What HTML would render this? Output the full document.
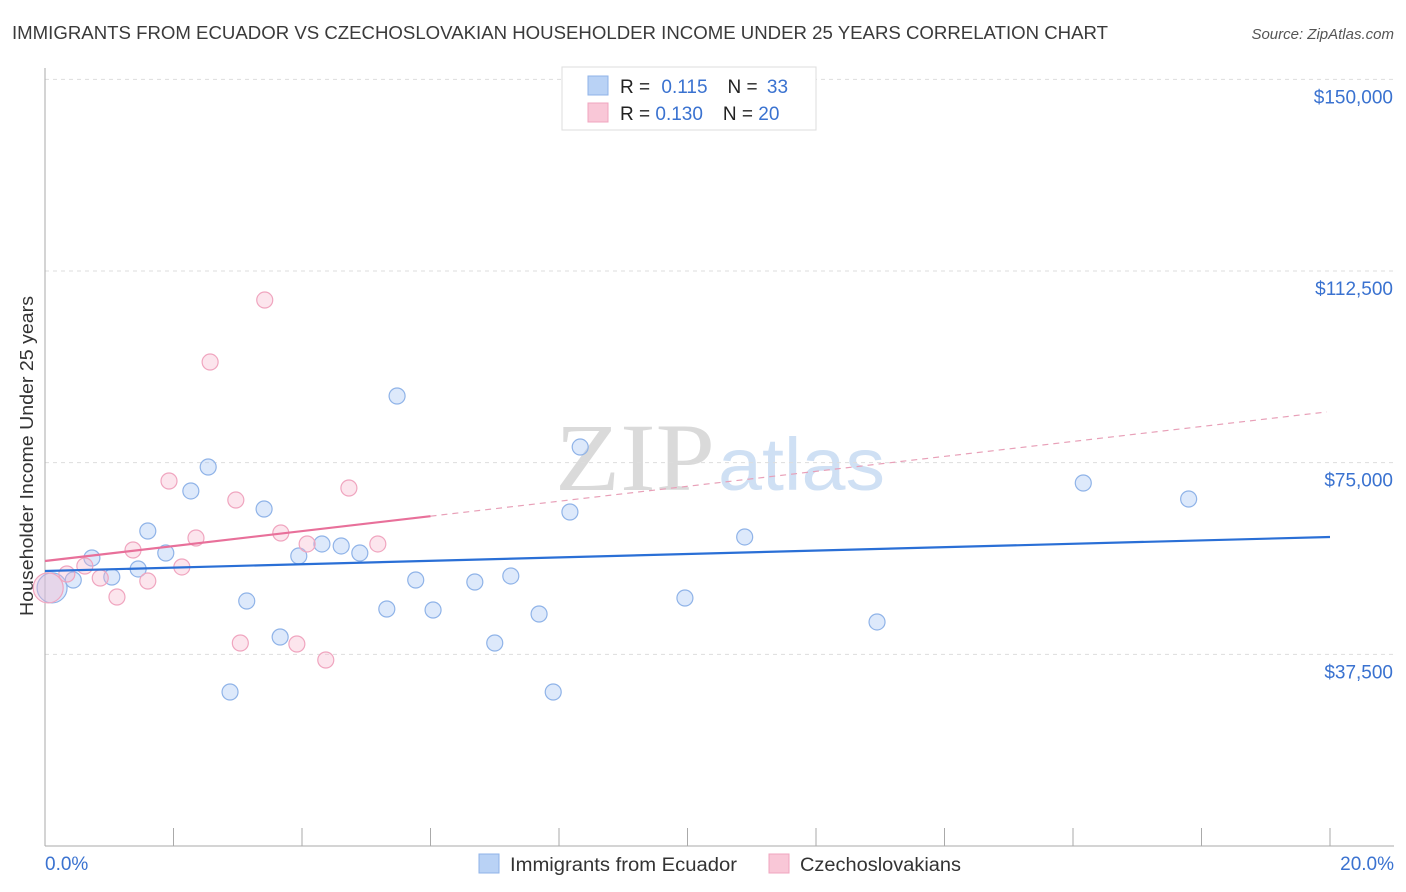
<!DOCTYPE html>
<html><head><meta charset="utf-8"><style>
body{margin:0;background:#fff;font-family:"Liberation Sans",sans-serif;}
#c{position:relative;width:1406px;height:892px;overflow:hidden}
</style></head><body>
<div id="c">
<svg id="s" width="1406" height="892" xmlns="http://www.w3.org/2000/svg">
<text x="12" y="39" font-size="18.5" fill="#3a3a3a" textLength="1096" lengthAdjust="spacingAndGlyphs">IMMIGRANTS FROM ECUADOR VS CZECHOSLOVAKIAN HOUSEHOLDER INCOME UNDER 25 YEARS CORRELATION CHART</text>
<text x="1394" y="39" font-size="15" fill="#555" font-style="italic" text-anchor="end">Source: ZipAtlas.com</text>
<text x="555" y="490" font-size="96" fill="#dadada" font-family="Liberation Serif,serif" textLength="160" lengthAdjust="spacingAndGlyphs">ZIP</text>
<text x="718" y="490" font-size="74" fill="#cfe0f4" textLength="167" lengthAdjust="spacingAndGlyphs">atlas</text>
<text transform="translate(33,456) rotate(-90)" font-size="18" fill="#333" text-anchor="middle" textLength="320" lengthAdjust="spacingAndGlyphs">Householder Income Under 25 years</text>
<g id="grid"></g><g id="marks"></g>
<rect x="562" y="67" width="254" height="63" fill="#fff" stroke="#ddd"/>
<rect x="588" y="76" width="20" height="19" fill="#b9d2f5" stroke="#8fb3e8"/>
<rect x="588" y="103" width="20" height="19" fill="#f9c7d7" stroke="#f0a5bf"/>
<text x="620" y="93" font-size="19" fill="#222">R = <tspan fill="#3a72d0" dx="6">0.115</tspan><tspan dx="20">N = </tspan><tspan fill="#3a72d0" dx="4">33</tspan></text>
<text x="620" y="120" font-size="19" fill="#222">R = <tspan fill="#3a72d0">0.130</tspan><tspan dx="20">N = </tspan><tspan fill="#3a72d0">20</tspan></text>
<rect x="479" y="854" width="20" height="19" fill="#b9d2f5" stroke="#8fb3e8"/>
<text x="510" y="871" font-size="19" fill="#333" textLength="227" lengthAdjust="spacingAndGlyphs">Immigrants from Ecuador</text>
<rect x="769" y="854" width="20" height="19" fill="#f9c7d7" stroke="#f0a5bf"/>
<text x="800" y="871" font-size="19" fill="#333" textLength="161" lengthAdjust="spacingAndGlyphs">Czechoslovakians</text>
</svg></div>
<script>
const yTicks=[37500,75000,112500,150000];
const yTickLabels=["$37,500","$75,000","$112,500","$150,000"];
const blueX=[0.11,0.44,0.73,1.04,1.45,1.60,1.88,2.27,2.54,2.88,3.14,3.41,3.66,3.95,4.31,4.61,4.90,5.32,5.48,5.77,6.04,6.69,7.00,7.25,7.69,7.91,8.17,8.33,9.96,10.89,12.95,16.16,17.80];
const blueY=[50500,52040,56350,52630,54200,61630,57320,69460,74150,30130,47930,65930,40890,56740,59090,58700,57320,46370,88040,52040,46170,51650,39720,52830,45390,30130,65350,78060,48520,60460,43830,71020,67890];
const pinkX=[0.05,0.34,0.62,0.86,1.12,1.37,1.60,1.93,2.13,2.35,2.57,2.97,3.04,3.42,3.67,3.92,4.08,4.37,4.73,5.18];
const pinkY=[50500,53220,54780,52430,48720,57910,51850,71410,54590,60260,94690,67690,39720,106820,61240,39520,59090,36390,70040,59090];
const blueTrend=[53800,60460];
const pinkTrend=[55760,85000];
const NS="http://www.w3.org/2000/svg";
const X=v=>45+v/20*1285, Y=v=>846-v/37500*191.67;
function mk(t,a,p){const e=document.createElementNS(NS,t);for(const k in a)e.setAttribute(k,a[k]);p.appendChild(e);return e;}
const g=document.getElementById('grid'),m=document.getElementById('marks');
yTicks.forEach((t,i)=>{
 const l=mk('line',{x1:45,x2:1394,y1:Y(t),y2:Y(t),stroke:'#ddd','stroke-dasharray':'4,4'},g);
 
 
 const tx=mk('text',{x:1393,y:Y(t)+24,'font-size':19,fill:'#3a72d0','text-anchor':'end'},g);
 tx.textContent=yTickLabels[i];
 
 
});
const ax=mk('line',{x1:45,x2:1394,y1:846,y2:846,stroke:'#aaa'},g);


const ay=mk('line',{x1:45,x2:45,y1:68,y2:846,stroke:'#aaa'},g);


for(let i=0;i<=10;i++){const t=mk('line',{x1:X(i*2),x2:X(i*2),y1:828,y2:846,stroke:'#aaa'},g);
 
 }
[["0.0%",45,"start"],["20.0%",1394,"end"]].forEach(a=>{const t=mk('text',{x:a[1],y:870,'font-size':19,fill:'#3a72d0','text-anchor':a[2]},g);t.textContent=a[0];
 
 });
function pts(xs,ys,fill,st,name){xs.forEach((x,i)=>{const c=mk('circle',{cx:X(x),cy:Y(ys[i]),r:i==0?15:8,fill:fill,stroke:st,'stroke-width':1.2},m);
 
 });}
pts(blueX,blueY,'rgba(170,200,244,0.4)','#8fb3e8','point-ecuador');
pts(pinkX,pinkY,'rgba(246,180,204,0.35)','#f0a5bf','point-czech');
const bl=mk('line',{x1:X(0),y1:Y(blueTrend[0]),x2:X(20),y2:Y(blueTrend[1]),stroke:'#2a6fd6','stroke-width':2.2},m);


const pv=x=>pinkTrend[0]+(pinkTrend[1]-pinkTrend[0])*x/20;
const ps=mk('line',{x1:X(0),y1:Y(pv(0)),x2:X(6),y2:Y(pv(6)),stroke:'#e8709a','stroke-width':2.2},m);


const pd=mk('line',{x1:X(6),y1:Y(pv(6)),x2:X(19.95),y2:Y(pv(19.95)),stroke:'#e8a0b8','stroke-width':1.2,'stroke-dasharray':'6,5'},m);


</script>
</body></html>
